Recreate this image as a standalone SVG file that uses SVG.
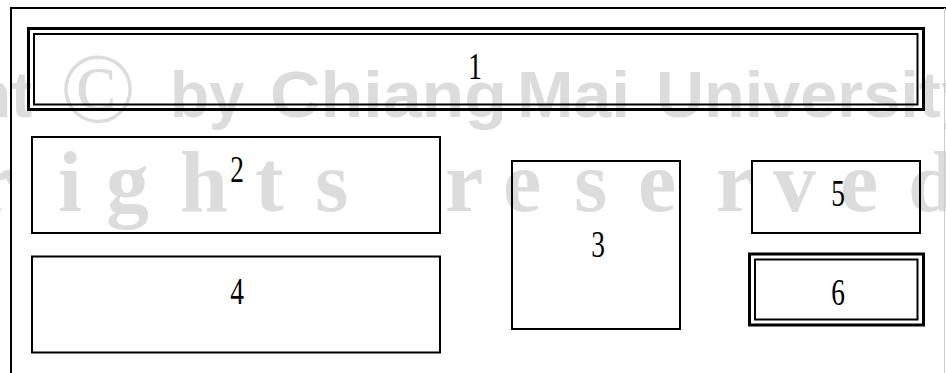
<svg xmlns="http://www.w3.org/2000/svg" width="946" height="373" viewBox="0 0 946 373">
  <style>
    .wm { fill: #dcdcdc; }
    .wm2 { font-family: "Liberation Sans", Arial, sans-serif; font-weight: bold; font-size: 64px; }
    .wm3 { font-family: "Liberation Serif", "Times New Roman", serif; font-weight: bold; font-size: 86px; }
    .frame { stroke: #000; stroke-width: 2; fill: none; }
    .box { stroke: #000; stroke-width: 2; fill: none; }
    .thick { stroke: #000; stroke-width: 3; fill: none; }
    .lbl { font-family: "Liberation Serif", "Times New Roman", serif; font-size: 38px; fill: #000; text-anchor: middle; }
  </style>
  <rect x="0" y="0" width="946" height="373" fill="#ffffff"/>

  <g id="watermark" class="wm">
    <text class="wm2" x="-28" y="117">ht</text>
    <text x="60" y="122" font-family="Liberation Serif, serif" font-size="100">©</text>
    <text class="wm2" x="170" y="117">by</text>
    <text class="wm2" x="270" y="117" textLength="237" lengthAdjust="spacingAndGlyphs">Chiang</text>
    <text class="wm2" x="517" y="117" textLength="113" lengthAdjust="spacingAndGlyphs">Mai</text>
    <text class="wm2" x="656" y="117" textLength="322" lengthAdjust="spacingAndGlyphs">University</text>
    <text class="wm3" y="211" x="-25 58 106 180 255 315 380 445 503 574 638 716 773 840 908">rights reserved</text>
  </g>

  <g id="frame">
    <line class="frame" x1="10" y1="8" x2="946" y2="8"/>
    <line class="frame" x1="11" y1="7" x2="11" y2="373"/>
    <line x1="944.5" y1="8" x2="944.5" y2="373" stroke="#cccccc" stroke-width="1"/>
  </g>

  <g id="node1">
    <rect class="thick" x="28.5" y="28.5" width="895" height="81"/>
    <rect class="box" x="34" y="34" width="883.5" height="70.5"/>
    <text class="lbl" transform="translate(475,79) scale(0.72,1)">1</text>
  </g>
  <g id="node2">
    <rect class="box" x="32" y="137" width="408" height="96"/>
    <text class="lbl" transform="translate(237,182) scale(0.72,1)">2</text>
  </g>
  <g id="node3">
    <rect class="box" x="512" y="161" width="168" height="168"/>
    <text class="lbl" transform="translate(598,257) scale(0.72,1)">3</text>
  </g>
  <g id="node4">
    <rect class="box" x="32" y="256.5" width="408" height="96"/>
    <text class="lbl" transform="translate(237,304) scale(0.72,1)">4</text>
  </g>
  <g id="node5">
    <rect class="box" x="752" y="161" width="168" height="72"/>
    <text class="lbl" transform="translate(838,206) scale(0.72,1)">5</text>
  </g>
  <g id="node6">
    <rect class="thick" x="749.5" y="254" width="174" height="71"/>
    <rect class="box" x="755" y="259.5" width="162.5" height="60" stroke-width="2.5"/>
    <text class="lbl" transform="translate(838,305) scale(0.72,1)">6</text>
  </g>
  <g id="connectors"></g>
</svg>
